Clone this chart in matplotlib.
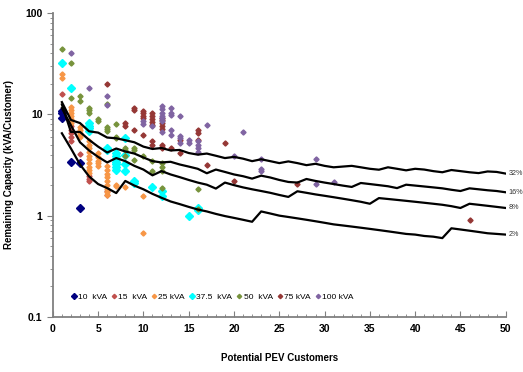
import matplotlib
matplotlib.use("Agg")
import matplotlib.pyplot as plt
import numpy as np
from matplotlib.ticker import MultipleLocator, LogLocator, NullFormatter, FixedFormatter, FixedLocator

plt.rcParams["font.family"] = ["Liberation Sans", "DejaVu Sans"]

# customers on the x axis for the capacity curves
customers = list(range(1, 51))

cap_32 = [13.2, 8.8, 8.2, 6.8, 6.6, 5.9, 5.8, 5.55, 5.3, 4.8, 4.55, 4.65, 4.4, 4.45, 4.15,
          4.0, 4.1, 3.9, 3.7, 3.8, 3.65, 3.45, 3.6, 3.45, 3.3, 3.43, 3.3, 3.15, 3.25, 3.1,
          3.0, 3.05, 3.1, 3.0, 2.9, 2.84, 3.0, 2.9, 2.8, 2.9, 2.85, 2.75, 2.68, 2.82, 2.75,
          2.68, 2.63, 2.73, 2.7, 2.6]
cap_16 = [12.5, 6.7, 6.7, 5.6, 4.8, 4.2, 4.6, 4.3, 4.1, 3.75, 3.45, 3.35, 3.4, 3.2, 3.05,
          2.9, 2.62, 2.85, 2.7, 2.55, 2.45, 2.32, 2.48, 2.38, 2.25, 2.15, 2.12, 2.3, 2.2, 2.12,
          2.05, 1.98, 1.92, 2.1, 2.05, 2.0, 1.95, 1.87, 2.02, 1.98, 1.94, 1.9, 1.86, 1.8, 1.75,
          1.86, 1.82, 1.78, 1.75, 1.7]
cap_8 = [11.5, 7.8, 5.3, 4.4, 3.8, 3.35, 3.7, 3.45, 3.1, 2.85, 2.5, 2.75, 2.55, 2.4, 2.25,
         2.12, 2.02, 1.85, 2.12, 2.0, 1.9, 1.82, 1.75, 1.68, 1.6, 1.53, 1.74, 1.68, 1.62, 1.57,
         1.52, 1.47, 1.42, 1.37, 1.31, 1.49, 1.46, 1.43, 1.4, 1.37, 1.34, 1.31, 1.28, 1.24, 1.19,
         1.31, 1.28, 1.25, 1.22, 1.19]
cap_2 = [6.5, 4.6, 3.2, 2.44, 2.05, 1.87, 1.67, 2.2, 1.98, 1.82, 1.64, 1.5, 1.38, 1.3, 1.22,
         1.15, 1.1, 1.04, 0.99, 0.95, 0.91, 0.87, 1.1, 1.05, 1.0, 0.97, 0.94, 0.91, 0.88, 0.85,
         0.82, 0.8, 0.78, 0.76, 0.74, 0.72, 0.7, 0.68, 0.66, 0.65, 0.63, 0.62, 0.6, 0.75, 0.73,
         0.71, 0.69, 0.67, 0.66, 0.65]
curve_labels = ["32%", "16%", "8%", "2%"]

# transformer points: customers, remaining capacity
kva10_x = [1, 1, 1, 2, 3, 3]
kva10_y = [10.8, 10.3, 9.2, 3.35, 3.3, 1.2]

kva15_x = [1, 2, 2, 2, 2, 2, 3, 4, 4, 4, 6, 6]
kva15_y = [15.9, 7.6, 7.0, 6.5, 6.0, 5.5, 4.1, 2.44, 2.3, 2.18, 1.61, 1.75]

kva25_x = [1, 1, 2, 2, 2, 2, 2, 2, 3, 3, 3, 3, 3, 4, 4, 4, 4, 4, 4, 4, 4, 4, 4,
           5, 5, 5, 5, 5, 6, 6, 6, 6, 6, 6, 6, 6, 6, 7, 7, 8, 10, 10]
kva25_y = [25.0, 23.0, 11.9, 11.0, 10.3, 9.6, 9.0, 8.3, 7.5, 7.0, 6.5, 6.2, 6.0,
           5.4, 5.0, 4.6, 4.2, 3.9, 3.6, 3.3, 3.0, 2.8, 2.63,
           4.15, 3.8, 3.5, 3.3, 3.06, 3.06, 2.8, 2.6, 2.4, 2.2, 2.0, 1.85, 1.7, 1.61,
           2.02, 1.95, 1.92, 1.55, 0.67]

kva375_x = [1, 2, 4, 4, 4, 4, 6, 6, 7, 7, 7, 7, 7, 7, 7, 8, 8, 8, 8, 9, 9, 11, 12, 12, 15, 16, 16]
kva375_y = [31.9, 18.0, 8.2, 7.7, 7.3, 6.9, 4.65, 4.4, 4.15, 3.9, 3.65, 3.4, 3.2, 3.0, 2.85,
            5.8, 4.0, 3.25, 2.73, 2.18, 2.1, 1.9, 1.74, 1.55, 1.0, 1.19, 1.13]

kva50_x = [1, 2, 2, 3, 3, 4, 4, 4, 5, 5, 6, 6, 6, 6, 7, 7, 7, 8, 8, 8, 9, 9, 9,
           10, 11, 11, 12, 12, 12, 12, 16, 16]
kva50_y = [44.0, 32.0, 14.6, 15.2, 13.6, 11.5, 11.0, 10.4, 9.0, 8.6, 12.6, 7.5, 7.1, 6.8,
           8.0, 6.0, 5.8, 4.65, 4.47, 3.84, 4.65, 4.47, 3.56, 3.84, 3.43, 2.73,
           3.3, 3.0, 2.73, 1.87, 1.85, 1.17]

kva75_x = [6, 8, 8, 9, 9, 9, 10, 10, 10, 10, 10, 11, 11, 11, 11, 11, 11, 11,
           12, 12, 12, 12, 12, 12, 12, 12, 13, 14, 14, 16, 16, 16, 17, 19, 20, 27, 46]
kva75_y = [19.8, 8.2, 7.7, 11.5, 11.0, 7.0, 10.7, 10.2, 9.7, 9.2, 6.2,
           10.3, 9.6, 9.0, 8.4, 7.9, 5.4, 5.0,
           9.2, 8.7, 8.2, 7.7, 7.2, 5.0, 4.8, 4.65, 4.65, 5.6, 4.15, 7.0, 6.6, 5.6,
           3.18, 5.2, 2.2, 2.05, 0.91]

kva100_x = [2, 4, 6, 6, 10, 10, 11, 12, 12, 12, 12, 12, 12, 12, 13, 13, 13, 13, 13,
            14, 14, 14, 14, 15, 15, 16, 16, 16, 16, 17, 20, 21, 23, 23, 23, 29, 29, 31]
kva100_y = [40.5, 18.0, 15.3, 12.5, 8.5, 8.0, 7.6, 12.2, 11.3, 10.3, 9.7, 9.2, 8.6, 6.7,
            11.5, 10.3, 9.9, 7.0, 6.3, 9.6, 6.1, 5.8, 5.2, 5.6, 5.2, 5.4, 5.0, 4.6, 4.2,
            7.9, 3.84, 6.7, 3.6, 2.9, 2.78, 3.6, 2.07, 2.15]

series = [
    ("10  kVA", kva10_x, kva10_y, "#000080", 3.6),
    ("15  kVA", kva15_x, kva15_y, "#C0504D", 2.6),
    ("25 kVA", kva25_x, kva25_y, "#F79646", 2.6),
    ("37.5  kVA", kva375_x, kva375_y, "#00FFFF", 3.6),
    ("50  kVA", kva50_x, kva50_y, "#77933C", 2.6),
    ("75 kVA", kva75_x, kva75_y, "#953735", 2.6),
    ("100 kVA", kva100_x, kva100_y, "#8064A2", 2.6),
]

fig = plt.figure(figsize=(5.23, 3.72), dpi=100)
ax = fig.add_axes([0.101, 0.148, 0.866, 0.817])

for label, xs, ys, color, ms in series:
    ax.plot(xs, ys, ls="none", marker="D", ms=ms, color=color, mec=color,
            label=label, zorder=3)

for vals, lab in zip([cap_32, cap_16, cap_8, cap_2], curve_labels):
    ax.plot(customers, vals, color="black", lw=1.6, zorder=4)
    ax.text(50.3, vals[-1], lab, fontsize=5.2, color="#333333", va="center", ha="left",
            clip_on=False)

ax.set_yscale("log")
ax.set_ylim(0.1, 100)
ax.set_xlim(0, 50)
ax.xaxis.set_major_locator(MultipleLocator(5))
ax.xaxis.set_minor_locator(MultipleLocator(1))
ax.yaxis.set_major_locator(FixedLocator([0.1, 1, 10, 100]))
ax.yaxis.set_major_formatter(FixedFormatter(["0.1", "1", "10", "100"]))
ax.yaxis.set_minor_locator(LogLocator(base=10, subs=np.arange(2, 10)))
ax.yaxis.set_minor_formatter(NullFormatter())

for s in ("top", "right"):
    ax.spines[s].set_visible(False)
for s in ("left", "bottom"):
    ax.spines[s].set_color("#808080")
    ax.spines[s].set_linewidth(1.3)

ax.tick_params(axis="x", which="both", direction="in", colors="#808080",
               labelcolor="black", labelsize=7.5, pad=5)
ax.tick_params(axis="x", which="major", length=4)
ax.tick_params(axis="x", which="minor", length=2.5)
ax.tick_params(axis="y", which="both", direction="out", colors="#808080",
               labelcolor="black", labelsize=7.5)
ax.tick_params(axis="y", which="major", length=4)
ax.tick_params(axis="y", which="minor", length=2.5)
for t in ax.get_xticklabels() + ax.get_yticklabels():
    t.set_fontweight("bold")

ax.set_xlabel("Potential PEV Customers", fontsize=7, fontweight="bold", labelpad=14)
ax.set_ylabel("Remaining Capacity (kVA/Customer)", fontsize=7, fontweight="bold", labelpad=8)

ax.legend(loc="center", bbox_to_anchor=(0.35, 0.065), ncol=7, frameon=False,
          fontsize=6.0, handletextpad=0.0, columnspacing=0.35, handlelength=1.0,
          markerscale=0.85)

fig.savefig("out.png", dpi=100, facecolor="white")
